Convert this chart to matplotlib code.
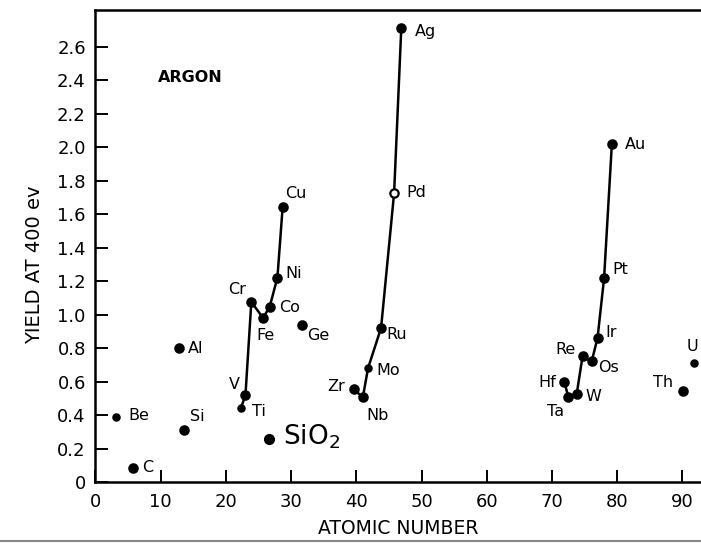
import numpy as np
import matplotlib
matplotlib.use('Agg')
import matplotlib.pyplot as plt
from matplotlib.lines import Line2D

# values (atomic number, yield at 400 eV)
d3_names = ['Ti', 'V', 'Cr', 'Fe', 'Co', 'Ni', 'Cu']
d3_z = [22.3, 23.0, 23.9, 25.7, 26.7, 27.9, 28.7]
d3_y = [0.44, 0.52, 1.075, 0.98, 1.045, 1.22, 1.64]

d4_names = ['Zr', 'Nb', 'Mo', 'Ru', 'Pd', 'Ag']
d4_z = [39.6, 41.0, 41.8, 43.8, 45.8, 46.9]
d4_y = [0.555, 0.505, 0.68, 0.92, 1.726, 2.71]

d5_names = ['Hf', 'Ta', 'W', 'Re', 'Os', 'Ir', 'Pt', 'Au']
d5_z = [71.9, 72.5, 73.8, 74.7, 76.1, 77.0, 78.0, 79.2]
d5_y = [0.60, 0.51, 0.525, 0.75, 0.72, 0.86, 1.216, 2.02]

single_names = ['Be', 'C', 'Al', 'Si', 'Ge', 'Th', 'U']
single_z = [3.2, 5.8, 12.8, 13.6, 31.6, 90.1, 91.8]
single_y = [0.39, 0.085, 0.80, 0.31, 0.94, 0.544, 0.71]

sio2_z = 26.6
sio2_y = 0.256

x_ticks = [0, 10, 20, 30, 40, 50, 60, 70, 80, 90]
y_ticks = [0, 0.2, 0.4, 0.6, 0.8, 1.0, 1.2, 1.4, 1.6, 1.8, 2.0, 2.2, 2.4, 2.6]
y_ticklabels = ['0', '0.2', '0.4', '0.6', '0.8', '1.0', '1.2', '1.4', '1.6',
                '1.8', '2.0', '2.2', '2.4', '2.6']

# label offsets in pixels (dx right, dy down)
offsets = {
    'Be': (22, -1), 'C': (14, 0), 'Si': (13, -13.5), 'Al': (16.5, 0),
    'Cu': (13, -14), 'Ni': (16, -4), 'Co': (19.5, 0), 'Fe': (2, 18),
    'Cr': (-14, -12), 'V': (-11.5, -10.5), 'Ti': (18, 3), 'Ge': (17, 11),
    'Zr': (-18, -2.5), 'Nb': (15, 18), 'Mo': (20, 2), 'Ru': (16, 7),
    'Pd': (22, 0), 'Ag': (24, 3), 'Au': (24, 1), 'Pt': (16.5, -9),
    'Ir': (14, -5), 'Re': (-17, -7), 'Os': (17, 6), 'Hf': (-17.5, 1),
    'Ta': (-13, 15), 'W': (17, 2.5), 'Th': (-20, -8), 'U': (-2, -16.5),
}
small = ['Ti', 'Mo', 'Be', 'U']
hollow = ['Pd']

plt.rcParams['font.family'] = 'DejaVu Sans'

fig = plt.figure(figsize=(7.01, 5.46), dpi=100)
ax = fig.add_axes([95.5 / 701, 64 / 546, 1 - 95.5 / 701, (482 - 10) / 546])

for zs, ys in [(d3_z, d3_y), (d4_z, d4_y), (d5_z, d5_y)]:
    ax.plot(zs, ys, color='black', lw=1.8, zorder=2)

all_names = d3_names + d4_names + d5_names + single_names
all_z = d3_z + d4_z + d5_z + single_z
all_y = d3_y + d4_y + d5_y + single_y

for n, z, y in zip(all_names, all_z, all_y):
    ms = 4.5 if n in small else 6
    face = 'white' if n in hollow else 'black'
    ax.plot(z, y, 'o', ms=ms, mfc=face, mec='black', mew=1.6, zorder=3,
            clip_on=False)
    dx, dy = offsets[n]
    ax.annotate(n, (z, y), xytext=(dx, -dy), textcoords='offset pixels',
                ha='center', va='center', fontsize=11.5, zorder=4)

ax.plot(sio2_z, sio2_y, 'o', ms=7, color='black', zorder=3)
ax.annotate('SiO$_2$', (sio2_z, sio2_y), xytext=(14, 2), textcoords='offset pixels',
            ha='left', va='center', fontsize=19)

ax.annotate('ARGON', xy=(190, 546 - 78), xycoords='figure pixels',
            ha='center', va='center', fontsize=11.5, fontweight='bold')

ax.set_xlim(0, (701 - 95.5) / 6.52)
ax.set_ylim(0, (483 - 10) / 167.8)
ax.set_xticks(x_ticks)
ax.set_yticks(y_ticks)
ax.set_yticklabels(y_ticklabels)
ax.tick_params(axis='both', direction='in', length=9, width=1.4, labelsize=13,
               pad=7, colors='black')
ax.tick_params(axis='x', pad=8)

for s in ['left', 'bottom', 'top']:
    ax.spines[s].set_linewidth(1.8)
ax.spines['right'].set_visible(False)

ax.set_xlabel('ATOMIC NUMBER', fontsize=13.5, labelpad=6)
fig.text(35 / 701, 1 - 265 / 546, 'YIELD AT 400 ev', rotation=90, ha='center',
         va='center', fontsize=14)

# faint border from the scan at the bottom
fig.add_artist(Line2D([0, 1], [1 - 541 / 546, 1 - 541 / 546], color='#888888', lw=1.5))

fig.savefig('out.png', dpi=100)
